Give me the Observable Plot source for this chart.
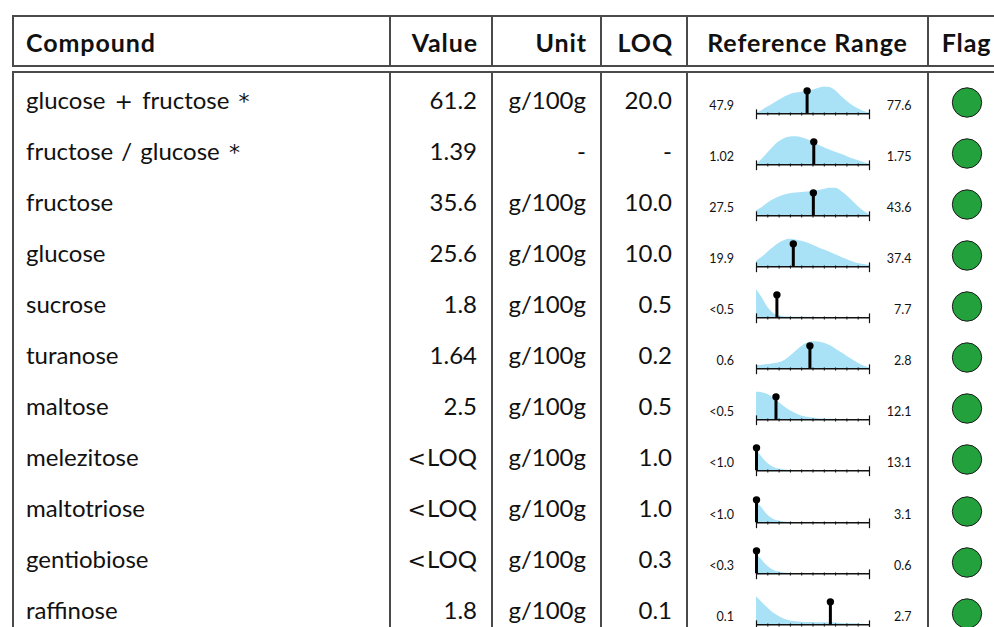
<!DOCTYPE html>
<html>
<head>
<meta charset="utf-8">
<script src="https://cdn.jsdelivr.net/npm/d3@7"></script>
<script src="https://cdn.jsdelivr.net/npm/@observablehq/plot@0.6"></script>
<style>
html,body{margin:0;padding:0;background:#fff;}
body{width:994px;height:627px;overflow:hidden;position:relative;font-family:Lato,"Open Sans",sans-serif;color:#111;}
.box{position:absolute;left:12px;width:994px;border:2px solid #4a4a4a;box-sizing:border-box;}
#head{top:15px;height:52px;}
#body{top:71px;height:640px;}
.row{display:flex;height:51.07px;}
#head .row{height:48px;}
.cell{box-sizing:border-box;flex:none;height:100%;white-space:nowrap;font-size:24px;line-height:48px;overflow:visible;}
#body .cell{padding-top:2.5px;}
#body .cell.c4,#body .cell.c5{padding-top:0;}
#head .cell{font-weight:bold;font-size:25px;letter-spacing:0.9px;line-height:50px;}
.cell + .cell{border-left:2px solid #4a4a4a;}
.c0{width:375px;padding-left:12px;text-align:left;word-spacing:2px;}
.c1{width:102px;padding-right:14px;text-align:right;}
.c2{width:109px;padding-right:14px;text-align:right;}
.c3{width:86px;padding-right:14px;text-align:right;}
.c4{width:241px;text-align:center;}
.c5{width:77px;text-align:center;}
#head .c1,#head .c2,#head .c3{padding-right:13px;}
.op{font-family:"DejaVu Sans",sans-serif;font-size:22px;padding:0 1px;}
.cell svg{display:block;}
</style>
</head>
<body>
<div class="box" id="head"><div class="row" id="headrow"></div></div>
<div class="box" id="body"></div>
<script>
// ---- data ----
const headers = ["Compound", "Value", "Unit", "LOQ", "Reference Range", "Flag"];
const compounds = ["glucose + fructose *", "fructose / glucose *", "fructose", "glucose", "sucrose", "turanose", "maltose", "melezitose", "maltotriose", "gentiobiose", "raffinose"];
const valueLabels = ["61.2", "1.39", "35.6", "25.6", "1.8", "1.64", "2.5", "<LOQ", "<LOQ", "<LOQ", "1.8"];
const values = [61.2, 1.39, 35.6, 25.6, 1.8, 1.64, 2.5, null, null, null, 1.8];
const units = ["g/100g", "-", "g/100g", "g/100g", "g/100g", "g/100g", "g/100g", "g/100g", "g/100g", "g/100g", "g/100g"];
const loqLabels = ["20.0", "-", "10.0", "10.0", "0.5", "0.2", "0.5", "1.0", "1.0", "0.3", "0.1"];
const rangeMin = [47.9, 1.02, 27.5, 19.9, 0.5, 0.6, 0.5, 1.0, 1.0, 0.3, 0.1];
const rangeMax = [77.6, 1.75, 43.6, 37.4, 7.7, 2.8, 12.1, 13.1, 3.1, 0.6, 2.7];
const rangeMinLabels = ["47.9", "1.02", "27.5", "19.9", "<0.5", "0.6", "<0.5", "<1.0", "<1.0", "<0.3", "0.1"];
const rangeMaxLabels = ["77.6", "1.75", "43.6", "37.4", "7.7", "2.8", "12.1", "13.1", "3.1", "0.6", "2.7"];
const flags = ["ok", "ok", "ok", "ok", "ok", "ok", "ok", "ok", "ok", "ok", "ok"];
// density profile (relative height) sampled at 0%,5%,...,100% of each reference range
const densitySteps = [0, 0.05, 0.1, 0.15, 0.2, 0.25, 0.3, 0.35, 0.4, 0.45, 0.5, 0.55, 0.6, 0.65, 0.7, 0.75, 0.8, 0.85, 0.9, 0.95, 1];
const densityProfiles = [
  [0.02, 0.12, 0.24, 0.36, 0.48, 0.6, 0.69, 0.74, 0.77, 0.8, 0.84, 0.91, 0.96, 0.94, 0.82, 0.63, 0.45, 0.3, 0.18, 0.08, 0.03],
  [0.02, 0.2, 0.42, 0.64, 0.82, 0.94, 0.99, 1.0, 0.97, 0.9, 0.8, 0.7, 0.61, 0.53, 0.45, 0.38, 0.3, 0.22, 0.15, 0.08, 0.02],
  [0.18, 0.3, 0.45, 0.57, 0.67, 0.74, 0.79, 0.81, 0.83, 0.85, 0.87, 0.9, 0.94, 0.98, 0.98, 0.88, 0.72, 0.53, 0.33, 0.16, 0.04],
  [0.2, 0.34, 0.52, 0.69, 0.84, 0.94, 0.98, 0.96, 0.91, 0.85, 0.77, 0.68, 0.6, 0.52, 0.43, 0.34, 0.26, 0.18, 0.12, 0.08, 0.05],
  [1.0, 0.72, 0.38, 0.16, 0.07, 0.04, 0.03, 0.02, 0.02, 0.02, 0.015, 0.01, 0.01, 0.01, 0.01, 0.01, 0.005, 0.005, 0.005, 0.005, 0.005],
  [0.12, 0.13, 0.15, 0.18, 0.22, 0.3, 0.45, 0.63, 0.8, 0.92, 0.97, 0.96, 0.91, 0.83, 0.71, 0.58, 0.45, 0.32, 0.2, 0.1, 0.03],
  [0.98, 0.97, 0.9, 0.78, 0.62, 0.46, 0.32, 0.22, 0.14, 0.09, 0.06, 0.04, 0.03, 0.02, 0.02, 0.01, 0.01, 0.01, 0.01, 0.01, 0.0],
  [0.75, 0.48, 0.26, 0.13, 0.06, 0.03, 0.015, 0.01, 0.01, 0.005, 0.005, 0.0, 0.0, 0.0, 0.0, 0.0, 0.0, 0.0, 0.0, 0.0, 0.0],
  [0.78, 0.52, 0.28, 0.13, 0.06, 0.03, 0.01, 0.01, 0.005, 0.0, 0.0, 0.0, 0.0, 0.0, 0.0, 0.0, 0.0, 0.0, 0.0, 0.0, 0.0],
  [0.72, 0.48, 0.27, 0.13, 0.06, 0.03, 0.01, 0.01, 0.005, 0.0, 0.0, 0.0, 0.0, 0.0, 0.0, 0.0, 0.0, 0.0, 0.0, 0.0, 0.0],
  [1.0, 0.8, 0.6, 0.42, 0.3, 0.2, 0.14, 0.11, 0.09, 0.08, 0.08, 0.07, 0.07, 0.07, 0.06, 0.05, 0.04, 0.04, 0.03, 0.02, 0.01]
];

// ---- rendering ----
const headrow = document.getElementById("headrow");
headers.forEach((h, j) => {
  const c = document.createElement("div");
  c.className = "cell c" + j;
  c.textContent = h;
  headrow.appendChild(c);
});

// put text into a cell, setting math-like symbols (+, <, *) in a wider face
function fillText(cell, t) {
  t.split(/([+<*])/).forEach(part => {
    if (part === "+" || part === "<" || part === "*") {
      const s = document.createElement("span");
      s.className = "op";
      s.textContent = part;
      cell.appendChild(s);
    } else if (part) {
      cell.appendChild(document.createTextNode(part));
    }
  });
}

function sparkline(i) {
  const lo = rangeMin[i], hi = rangeMax[i];
  const pts = densitySteps.map((f, k) => ({x: lo + f * (hi - lo), d: densityProfiles[i][k]}));
  const v = values[i] == null ? lo : values[i];
  const minor = d3.range(1, 10).map(k => lo + k * (hi - lo) / 10);
  const stemTop = 0.82;
  return Plot.plot({
    width: 239, height: 51,
    marginLeft: 68, marginRight: 58, marginTop: 12.3, marginBottom: 10.7,
    x: {domain: [lo, hi], axis: null},
    y: {domain: [0, 1], axis: null},
    style: {background: "transparent", overflow: "visible", fontFamily: "Lato, sans-serif"},
    marks: [
      Plot.areaY(pts, {x: "x", y: "d", fill: "#a9e2f7", curve: "monotone-x"}),
      Plot.ruleY([0], {stroke: "#111", strokeWidth: 1.6}),
      Plot.ruleX(minor, {y1: -0.08, y2: 0.03, stroke: "#111", strokeWidth: 1}),
      Plot.ruleX([lo, hi], {y1: -0.21, y2: 0.14, stroke: "#111", strokeWidth: 1.2}),
      Plot.ruleX([v], {y1: 0, y2: stemTop, stroke: "#000", strokeWidth: 3}),
      Plot.dot([v], {x: d => d, y: stemTop, r: 3.7, fill: "#000"}),
      Plot.text([rangeMinLabels[i]], {x: lo, y: 0, dx: -22.5, dy: -8, textAnchor: "end", fontSize: 12.5, fill: "#111"}),
      Plot.text([rangeMaxLabels[i]], {x: hi, y: 0, dx: 42, dy: -8, textAnchor: "end", fontSize: 12.5, fill: "#111"})
    ]
  });
}

function flagDot(i) {
  return Plot.plot({
    width: 75, height: 51,
    marginTop: 7, marginBottom: 0, marginLeft: 0, marginRight: 0,
    color: {domain: ["ok", "warn", "fail"], range: ["#23a13c", "#f2b705", "#d62828"]},
    style: {background: "transparent", overflow: "visible"},
    marks: [
      Plot.dot([flags[i]], {frameAnchor: "middle", r: 14.7, fill: d => d, stroke: "#1d1d1d", strokeWidth: 1})
    ]
  });
}

const body = document.getElementById("body");
compounds.forEach((name, i) => {
  const row = document.createElement("div");
  row.className = "row";
  const texts = [name, valueLabels[i], units[i], loqLabels[i]];
  texts.forEach((t, j) => {
    const c = document.createElement("div");
    c.className = "cell c" + j;
    fillText(c, t);
    row.appendChild(c);
  });
  const ref = document.createElement("div");
  ref.className = "cell c4";
  ref.appendChild(sparkline(i));
  row.appendChild(ref);
  const fl = document.createElement("div");
  fl.className = "cell c5";
  fl.appendChild(flagDot(i));
  row.appendChild(fl);
  body.appendChild(row);
});
</script>
</body>
</html>
